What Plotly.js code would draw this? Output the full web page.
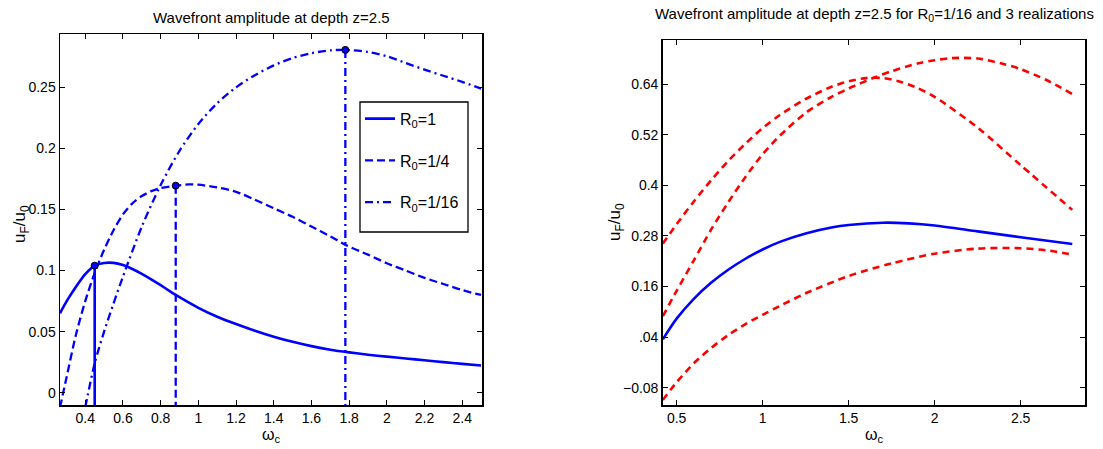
<!DOCTYPE html>
<html>
<head>
<meta charset="utf-8">
<script src="https://cdn.plot.ly/plotly-3.0.1.min.js"></script>
<style>html,body{margin:0;padding:0;background:#fff;}#plot{width:1103px;height:449px;}</style>
</head>
<body>
<div id="plot"></div>
<script>
// ---- Left panel data ----
const xR1 = [0.266, 0.3, 0.35, 0.4, 0.45, 0.5, 0.55, 0.6, 0.65, 0.7, 0.75, 0.8, 0.85, 0.9, 1.0, 1.1, 1.2, 1.3, 1.4, 1.5, 1.6, 1.7, 1.8, 1.9, 2.0, 2.1, 2.2, 2.3, 2.4, 2.5];
const yR1 = [0.065, 0.0745, 0.0865, 0.0970, 0.1040, 0.1062, 0.1063, 0.1045, 0.1013, 0.0973, 0.0928, 0.0880, 0.0830, 0.0782, 0.0695, 0.0622, 0.0562, 0.0507, 0.0458, 0.0416, 0.0381, 0.0352, 0.0330, 0.0311, 0.0295, 0.0280, 0.0265, 0.0250, 0.0236, 0.0222];
const xR4 = [0.266, 0.3, 0.35, 0.4, 0.45, 0.5, 0.55, 0.6, 0.65, 0.7, 0.75, 0.8, 0.88, 0.95, 1.0, 1.1, 1.2, 1.3, 1.4, 1.5, 1.6, 1.7, 1.78, 1.9, 2.0, 2.1, 2.2, 2.3, 2.4, 2.5];
const yR4 = [-0.012, 0.012, 0.047, 0.075, 0.098, 0.117, 0.133, 0.146, 0.155, 0.161, 0.165, 0.1675, 0.1695, 0.1705, 0.1703, 0.168, 0.1645, 0.158, 0.151, 0.144, 0.136, 0.128, 0.121, 0.113, 0.106, 0.100, 0.094, 0.089, 0.084, 0.080];
const xR16 = [0.4, 0.45, 0.5, 0.55, 0.6, 0.7, 0.8, 0.9, 1.0, 1.1, 1.2, 1.3, 1.4, 1.5, 1.6, 1.7, 1.78, 1.9, 2.0, 2.1, 2.2, 2.3, 2.4, 2.5];
const yR16 = [-0.012, 0.024, 0.050, 0.073, 0.095, 0.136, 0.170, 0.198, 0.220, 0.237, 0.250, 0.260, 0.268, 0.274, 0.278, 0.2803, 0.2807, 0.279, 0.2755, 0.270, 0.2645, 0.2595, 0.2545, 0.249];
const markX = [0.45, 0.88, 1.78];
const markY = [0.104, 0.1695, 0.2807];
const seriesNames = ['R<sub>0</sub>=1', 'R<sub>0</sub>=1/4', 'R<sub>0</sub>=1/16'];
const leftXTicks = [0.4, 0.6, 0.8, 1, 1.2, 1.4, 1.6, 1.8, 2, 2.2, 2.4];
const leftXTickText = ['0.4', '0.6', '0.8', '1', '1.2', '1.4', '1.6', '1.8', '2', '2.2', '2.4'];
const leftYTicks = [0, 0.05, 0.1, 0.15, 0.2, 0.25];
const leftYTickText = ['0', '0.05', '0.1', '0.15', '0.2', '0.25'];

// ---- Right panel data ----
const xB = [0.42, 0.5, 0.6, 0.7, 0.8, 0.9, 1.0, 1.1, 1.25, 1.4, 1.5, 1.7, 1.85, 2.0, 2.25, 2.5, 2.8];
const yB = [0.035, 0.084, 0.131, 0.169, 0.200, 0.226, 0.248, 0.266, 0.286, 0.300, 0.306, 0.3115, 0.310, 0.305, 0.291, 0.277, 0.261];
const xRed1 = [0.42, 0.5, 0.6, 0.7, 0.8, 0.9, 1.0, 1.1, 1.25, 1.4, 1.5, 1.6, 1.7, 1.8, 1.9, 2.0, 2.25, 2.5, 2.8];
const yRed1 = [0.262, 0.308, 0.362, 0.412, 0.458, 0.499, 0.536, 0.567, 0.605, 0.634, 0.647, 0.6545, 0.6545, 0.646, 0.631, 0.610, 0.537, 0.448, 0.342];
const xRed2 = [0.42, 0.5, 0.6, 0.7, 0.8, 0.9, 1.0, 1.1, 1.25, 1.4, 1.5, 1.65, 1.75, 1.9, 2.0, 2.1, 2.25, 2.4, 2.5, 2.65, 2.8];
const yRed2 = [0.090, 0.150, 0.222, 0.295, 0.360, 0.420, 0.474, 0.518, 0.572, 0.610, 0.630, 0.656, 0.671, 0.689, 0.697, 0.702, 0.701, 0.688, 0.676, 0.650, 0.617];
const xRed3 = [0.42, 0.5, 0.6, 0.7, 0.8, 0.9, 1.0, 1.1, 1.25, 1.5, 1.75, 2.0, 2.25, 2.5, 2.65, 2.8];
const yRed3 = [-0.109, -0.067, -0.022, 0.014, 0.045, 0.071, 0.093, 0.114, 0.144, 0.185, 0.215, 0.238, 0.250, 0.251, 0.246, 0.236];
const rightXTicks = [0.5, 1, 1.5, 2, 2.5];
const rightXTickText = ['0.5', '1', '1.5', '2', '2.5'];
const rightYTicks = [-0.08, 0.04, 0.16, 0.28, 0.4, 0.52, 0.64];
const rightYTickText = ['\u22120.08', '.04', '0.16', '0.28', '0.4', '0.52', '0.64'];

const BLUE = '#0000ff', RED = '#ff0000';
const leftYMin = -0.0101, leftYMax = 0.2937;
const dashStyles = ['solid', '8px,4px', '8px,4px,2px,4px'];
const curvesX = [xR1, xR4, xR16];
const curvesY = [yR1, yR4, yR16];

const traces = [];
for (let i = 0; i < 3; i++) {
  traces.push({
    x: curvesX[i], y: curvesY[i], type: 'scatter', mode: 'lines',
    name: seriesNames[i], legendgroup: 'g' + i,
    line: {color: BLUE, width: i === 0 ? 2.6 : 2.3, dash: dashStyles[i], shape: 'spline', smoothing: 0.8},
    xaxis: 'x', yaxis: 'y'
  });
}
for (let i = 0; i < 3; i++) {
  traces.push({
    x: [markX[i], markX[i]], y: [markY[i], leftYMin], type: 'scatter', mode: 'lines',
    showlegend: false, hoverinfo: 'skip',
    line: {color: BLUE, width: i === 0 ? 2.6 : 2.3, dash: dashStyles[i]},
    xaxis: 'x', yaxis: 'y'
  });
}
traces.push({
  x: markX, y: markY, type: 'scatter', mode: 'markers', showlegend: false,
  marker: {color: BLUE, size: 7, line: {color: '#000', width: 1}},
  xaxis: 'x', yaxis: 'y'
});
// Right panel
traces.push({x: xB, y: yB, type: 'scatter', mode: 'lines', showlegend: false,
  line: {color: BLUE, width: 2.6, shape: 'spline', smoothing: 0.8}, xaxis: 'x2', yaxis: 'y2'});
[[xRed1, yRed1], [xRed2, yRed2], [xRed3, yRed3]].forEach(function(s) {
  traces.push({x: s[0], y: s[1], type: 'scatter', mode: 'lines', showlegend: false,
    line: {color: RED, width: 2.6, dash: '7px,5px', shape: 'spline', smoothing: 0.8}, xaxis: 'x2', yaxis: 'y2'});
});

const FONT = 'Liberation Sans, Arial, sans-serif';
function axisBase() {
  return {
    showline: true, linecolor: '#000', linewidth: 1.5, mirror: 'ticks',
    ticks: 'inside', ticklen: 5, tickwidth: 1, tickcolor: '#000',
    showgrid: false, zeroline: false,
    tickfont: {family: FONT, size: 14, color: '#000'}
  };
}
function ann(text, xpx, ypx, xa, ya, size, angle) {
  return {text: text, xref: 'paper', yref: 'paper', x: xpx / 1103, y: 1 - ypx / 449,
    xanchor: xa, yanchor: ya, showarrow: false, textangle: angle || 0,
    font: {family: FONT, size: size, color: '#000'}};
}

const layout = {
  width: 1103, height: 449,
  margin: {l: 0, r: 0, t: 0, b: 0},
  paper_bgcolor: '#fff', plot_bgcolor: '#fff',
  font: {family: FONT, color: '#000'},
  xaxis: Object.assign(axisBase(), {
    domain: [60 / 1103, 482 / 1103], range: [0.266, 2.505], anchor: 'y',
    tickmode: 'array', tickvals: leftXTicks, ticktext: leftXTickText
  }),
  yaxis: Object.assign(axisBase(), {
    domain: [44 / 449, 415 / 449], range: [leftYMin, leftYMax], anchor: 'x',
    tickmode: 'array', tickvals: leftYTicks, ticktext: leftYTickText
  }),
  xaxis2: Object.assign(axisBase(), {
    domain: [662.7 / 1103, 1085 / 1103], range: [0.419, 2.874], anchor: 'y2',
    tickmode: 'array', tickvals: rightXTicks, ticktext: rightXTickText
  }),
  yaxis2: Object.assign(axisBase(), {
    domain: [44 / 449, 409 / 449], range: [-0.121, 0.745], anchor: 'x2',
    tickmode: 'array', tickvals: rightYTicks, ticktext: rightYTickText
  }),
  showlegend: true,
  legend: {
    x: 360 / 1103, y: 1 - 101.7 / 449, xanchor: 'left', yanchor: 'top',
    bgcolor: 'rgba(0,0,0,0)', borderwidth: 0,
    font: {family: FONT, size: 16, color: '#000'},
    tracegroupgap: 18, itemwidth: 30
  },
  shapes: [
    {type: 'rect', xref: 'paper', yref: 'paper', layer: 'above',
     x0: 360 / 1103, x1: 468 / 1103, y0: 1 - 232 / 449, y1: 1 - 102 / 449,
     line: {color: '#000', width: 1.3}, fillcolor: 'rgba(0,0,0,0)'}
  ],
  annotations: [
    ann('Wavefront amplitude at depth z=2.5', 271, 17.5, 'center', 'middle', 15),
    ann('Wavefront amplitude at depth z=2.5 for R<sub>0</sub>=1/16 and 3 realizations', 874, 3, 'center', 'top', 15),
    ann('u<sub>F</sub>/u<sub>0</sub>', 21, 224, 'center', 'middle', 17, -90),
    ann('u<sub>F</sub>/u<sub>0</sub>', 616, 222, 'center', 'middle', 17, -90),
    ann('\u03c9<sub>c</sub>', 271, 424, 'center', 'top', 16),
    ann('\u03c9<sub>c</sub>', 874, 424, 'center', 'top', 16)
  ]
};

Plotly.newPlot('plot', traces, layout, {displayModeBar: false, staticPlot: true});
</script>
</body>
</html>
